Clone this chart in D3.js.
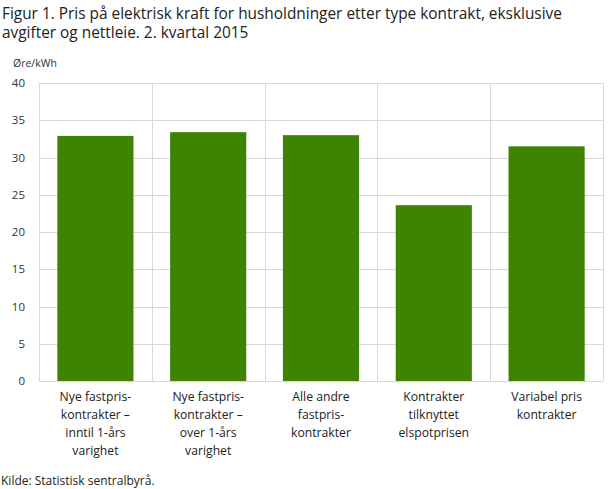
<!DOCTYPE html>
<html>
<head>
<meta charset="utf-8">
<script src="https://cdn.jsdelivr.net/npm/d3@7"></script>
<style>
  body { margin: 0; background: #fff; }
  svg { display: block; font-family: "Open Sans", sans-serif; }
</style>
</head>
<body>
<div id="chart"></div>
<script>
// data
const categories = [
  ["Nye fastpris-", "kontrakter –", "inntil 1-års", "varighet"],
  ["Nye fastpris-", "kontrakter –", "over 1-års", "varighet"],
  ["Alle andre", "fastpris-", "kontrakter"],
  ["Kontrakter", "tilknyttet", "elspotprisen"],
  ["Variabel pris", "kontrakter"]
];
const values = [32.9, 33.4, 33.0, 23.6, 31.5];
const yTicks = [0, 5, 10, 15, 20, 25, 30, 35, 40];
const titleLines = [
  "Figur 1. Pris på elektrisk kraft for husholdninger etter type kontrakt, eksklusive",
  "avgifter og nettleie. 2. kvartal 2015"
];

const width = 609, height = 489;
const margin = { top: 83, right: 6, bottom: 108, left: 39 };
const innerW = width - margin.left - margin.right;
const innerH = height - margin.top - margin.bottom;

const svg = d3.select("#chart").append("svg")
  .attr("width", width)
  .attr("height", height);

// title
svg.append("g").selectAll("text")
  .data(titleLines)
  .enter().append("text")
    .attr("x", 2)
    .attr("y", (d, i) => 19 + i * 19)
    .attr("font-size", 15.4)
    .attr("fill", "#222")
    .text(d => d);

svg.append("text")
  .attr("x", 13)
  .attr("y", 67)
  .attr("font-size", 10.5)
  .attr("fill", "#333")
  .text("Øre/kWh");

const g = svg.append("g")
  .attr("transform", `translate(${margin.left}, ${margin.top})`);

const x = d3.scaleBand()
  .domain(d3.range(categories.length))
  .range([0, innerW])
  .padding(0);

const y = d3.scaleLinear()
  .domain([0, 40])
  .range([innerH, 0]);

// horizontal grid
g.append("g").selectAll("line")
  .data(yTicks)
  .enter().append("line")
    .attr("x1", 0)
    .attr("x2", innerW)
    .attr("y1", d => Math.round(y(d)) + 0.5)
    .attr("y2", d => Math.round(y(d)) + 0.5)
    .attr("stroke", "#d9d9d9");

// vertical grid at category boundaries
g.append("g").selectAll("line")
  .data(d3.range(categories.length + 1))
  .enter().append("line")
    .attr("x1", d => Math.round(d < categories.length ? x(d) : innerW) + 0.5)
    .attr("x2", d => Math.round(d < categories.length ? x(d) : innerW) + 0.5)
    .attr("y1", 0)
    .attr("y2", innerH)
    .attr("stroke", "#d9d9d9");

// y axis labels
const yAxis = g.append("g")
  .call(d3.axisLeft(y).tickValues(yTicks).tickSize(0).tickPadding(14));
yAxis.select(".domain").remove();
yAxis.selectAll("text")
  .attr("font-family", "Open Sans, sans-serif")
  .attr("font-size", 11.5)
  .attr("fill", "#333");

// bars
const barW = x.bandwidth() * 0.675;
g.selectAll(".bar")
  .data(values)
  .enter().append("rect")
    .attr("class", "bar")
    .attr("x", (d, i) => x(i) + (x.bandwidth() - barW) / 2)
    .attr("y", d => y(d))
    .attr("width", barW)
    .attr("height", d => innerH - y(d))
    .attr("fill", "#3f8400");

// category labels
const labels = g.append("g").selectAll("text")
  .data(categories)
  .enter().append("text")
    .attr("x", (d, i) => x(i) + x.bandwidth() / 2)
    .attr("y", innerH + 20)
    .attr("text-anchor", "middle")
    .attr("font-size", 12.2)
    .attr("fill", "#222");
labels.selectAll("tspan")
  .data(d => d)
  .enter().append("tspan")
    .attr("x", function() { return this.parentNode.getAttribute("x"); })
    .attr("dy", (d, i) => i === 0 ? 0 : 18)
    .text(d => d);

svg.append("text")
  .attr("x", 1)
  .attr("y", 485)
  .attr("font-size", 12)
  .attr("fill", "#222")
  .text("Kilde: Statistisk sentralbyrå.");
</script>
</body>
</html>
